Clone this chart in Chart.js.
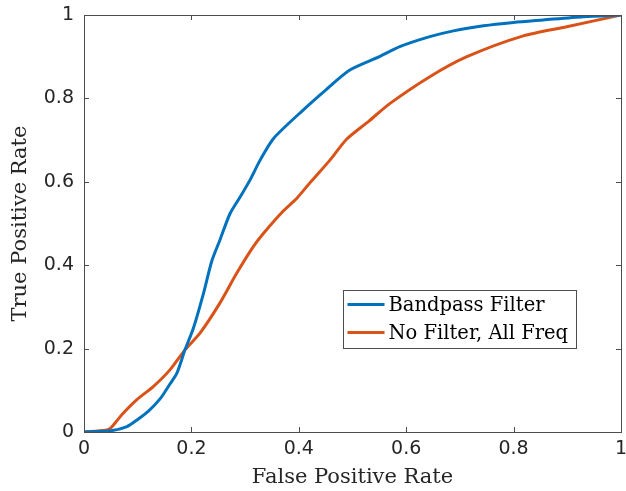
<!DOCTYPE html>
<html><head><meta charset="utf-8">
<script src="https://cdn.jsdelivr.net/npm/chart.js@4/dist/chart.umd.min.js"></script>
<style>html,body{margin:0;padding:0;background:#fff}#wrap{width:626px;height:491px}</style>
</head><body><div id="wrap"><canvas id="c" width="626" height="491"></canvas></div>
<script>
const seriesNames = ["Bandpass Filter", "No Filter, All Freq"];
const tickValues = [0, 0.2, 0.4, 0.6, 0.8, 1];
const tickLabels = ["0", "0.2", "0.4", "0.6", "0.8", "1"];
const blueX = [0,0.05,0.08,0.10,0.12,0.142,0.16,0.173,0.188,0.204,0.222,0.238,0.253,0.272,0.291,0.309,0.328,0.353,0.408,0.45,0.495,0.55,0.588,0.644,0.688,0.744,0.80,0.855,0.93,1];
const blueY = [0,0.003,0.013,0.03,0.05,0.08,0.115,0.141,0.197,0.25,0.33,0.41,0.46,0.524,0.564,0.604,0.652,0.704,0.772,0.82,0.868,0.90,0.924,0.948,0.962,0.974,0.982,0.988,0.996,1];
const orangeX = [0,0.04,0.05,0.06,0.073,0.098,0.129,0.16,0.188,0.216,0.253,0.284,0.315,0.334,0.371,0.396,0.421,0.458,0.489,0.53,0.57,0.644,0.713,0.818,0.899,1];
const orangeY = [0,0.004,0.01,0.025,0.045,0.077,0.109,0.149,0.197,0.237,0.309,0.38,0.444,0.476,0.53,0.56,0.598,0.652,0.702,0.745,0.788,0.852,0.90,0.95,0.972,1];
const colors = ["#0072BD", "#D95319"];

const toPts = (xs, ys) => xs.map((x, i) => ({x, y: ys[i]}));
const AX = '#4d4d4d', TXT = '#262626';
const SERIF = '"DejaVu Serif", serif';

const framePlugin = {
  id: 'frame',
  afterDatasetsDraw(chart) {
    const {ctx, chartArea: a, scales} = chart;
    ctx.save();
    ctx.strokeStyle = AX; ctx.lineWidth = 1;
    ctx.strokeRect(Math.round(a.left)+0.5, Math.round(a.top)+0.5, Math.round(a.right-a.left), Math.round(a.bottom-a.top));
    const L = 5;
    ctx.beginPath();
    tickValues.forEach(v => {
      const px = Math.round(scales.x.getPixelForValue(v)) + 0.5;
      ctx.moveTo(px, a.bottom); ctx.lineTo(px, a.bottom - L);
      ctx.moveTo(px, a.top); ctx.lineTo(px, a.top + L);
      const py = Math.round(scales.y.getPixelForValue(v)) + 0.5;
      ctx.moveTo(a.left, py); ctx.lineTo(a.left + L, py);
      ctx.moveTo(a.right, py); ctx.lineTo(a.right - L, py);
    });
    ctx.stroke();
    // legend
    const w = a.right - a.left, h = a.bottom - a.top;
    const bx = Math.round(a.left + 0.482 * w) + 0.5, by = Math.round(a.top + 0.66 * h) + 0.5;
    const bw = 233, bh = 58;
    ctx.fillStyle = '#fff'; ctx.fillRect(bx, by, bw, bh);
    ctx.strokeStyle = AX; ctx.strokeRect(bx, by, bw, bh);
    ctx.font = '19.5px ' + SERIF;
    ctx.textBaseline = 'middle'; ctx.textAlign = 'left';
    chart.data.datasets.forEach((ds, i) => {
      const yy = by + 14 + i * 28;
      ctx.strokeStyle = ds.borderColor; ctx.lineWidth = 3;
      ctx.beginPath(); ctx.moveTo(bx + 4, yy); ctx.lineTo(bx + 41, yy); ctx.stroke();
      ctx.fillStyle = '#000';
      ctx.fillText(ds.label, bx + 45, yy + 1);
    });
    ctx.restore();
  }
};

new Chart(document.getElementById('c'), {
  type: 'scatter',
  data: {
    datasets: [
      {label: seriesNames[0], data: toPts(blueX, blueY), borderColor: colors[0], backgroundColor: colors[0], showLine: true, pointRadius: 0, borderWidth: 3, tension: 0.25},
      {label: seriesNames[1], data: toPts(orangeX, orangeY), borderColor: colors[1], backgroundColor: colors[1], showLine: true, pointRadius: 0, borderWidth: 3, tension: 0.25}
    ]
  },
  options: {
    responsive: false, animation: false, devicePixelRatio: 1,
    layout: {padding: {top: 15, right: 5, left: 0, bottom: 0}},
    plugins: {legend: {display: false}, tooltip: {enabled: false}},
    scales: {
      x: {
        type: 'linear', min: 0, max: 1,
        afterBuildTicks: s => { s.ticks = tickValues.map(v => ({value: v})); },
        afterFit: s => { s.height = 59; s.paddingLeft = 0; s.paddingRight = 0; },
        grid: {display: false, drawTicks: false}, border: {display: false},
        ticks: {color: TXT, font: {family: '"DejaVu Sans", sans-serif', size: 19}, padding: 6, maxRotation: 0,
          callback: (v) => tickLabels[tickValues.indexOf(+v.toFixed(1))] ?? ''},
        title: {display: true, text: 'False Positive Rate', color: TXT, font: {family: SERIF, size: 21}, padding: {top: 0, bottom: 1}}
      },
      y: {
        type: 'linear', min: 0, max: 1,
        afterBuildTicks: s => { s.ticks = tickValues.map(v => ({value: v})); },
        afterFit: s => { s.width = 84; s.paddingTop = 0; s.paddingBottom = 0; },
        grid: {display: false, drawTicks: false}, border: {display: false},
        ticks: {color: TXT, font: {family: '"DejaVu Sans", sans-serif', size: 19}, padding: 10,
          callback: (v) => tickLabels[tickValues.indexOf(+v.toFixed(1))] ?? ''},
        title: {display: true, text: 'True Positive Rate', color: TXT, font: {family: SERIF, size: 21}, padding: {top: 8, bottom: 8}}
      }
    }
  },
  plugins: [framePlugin]
});
</script></body></html>
